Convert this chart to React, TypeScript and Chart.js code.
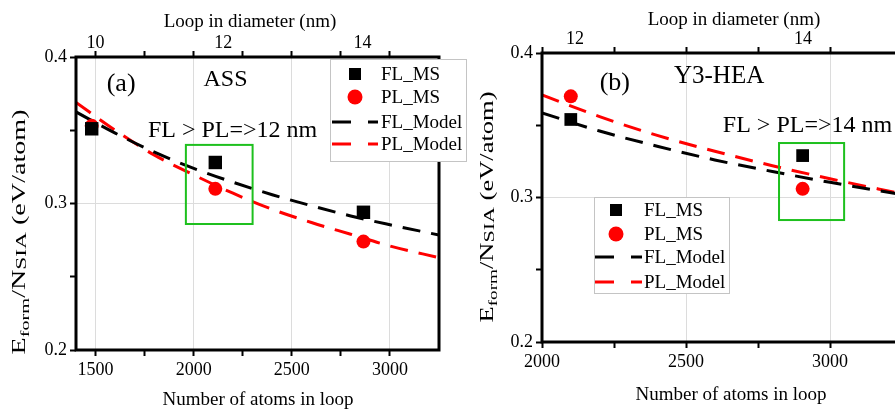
import React, { useEffect, useRef } from 'react';
import { Chart, registerables } from 'chart.js';

Chart.register(...registerables);

const SERIF = '"Liberation Serif", "Times New Roman", serif';

// ---- Panel (a): ASS ----
const A_ATOMS = [1480, 2110, 2865];
const A_FL_MS = [0.351, 0.328, 0.294];
const A_PL_MS = [0.353, 0.31, 0.274];
const A_MODEL_ATOMS = [1400, 1600, 1800, 2000, 2200, 2400, 2600, 2800, 3000, 3250];
const A_FL_MODEL = [0.3625, 0.348, 0.335, 0.324, 0.3145, 0.306, 0.2985, 0.2915, 0.2855, 0.2785];
const A_PL_MODEL = [0.369, 0.35, 0.333, 0.3195, 0.307, 0.296, 0.287, 0.279, 0.271, 0.263];
const A_X_TICKS = [1500, 1750, 2000, 2250, 2500, 2750, 3000];
const A_DIAM_ATOMS = [1500, 2150, 2860];
const A_DIAM_LABELS = ['10', '12', '14'];

// ---- Panel (b): Y3-HEA ----
const B_ATOMS = [2100, 2905];
const B_FL_MS = [0.354, 0.329];
const B_PL_MS = [0.37, 0.306];
const B_MODEL_ATOMS = [2000, 2200, 2400, 2600, 2800, 3000, 3250];
const B_FL_MODEL = [0.3585, 0.346, 0.3355, 0.326, 0.318, 0.3105, 0.302];
const B_PL_MODEL = [0.371, 0.356, 0.343, 0.332, 0.322, 0.313, 0.3025];
const B_X_TICKS = [2000, 2250, 2500, 2750, 3000];
const B_DIAM_ATOMS = [2115, 2906];
const B_DIAM_LABELS = ['12', '14'];

const Y_TICKS = [0.2, 0.25, 0.3, 0.35, 0.4];
const SERIES = ['FL_MS', 'PL_MS', 'FL_Model', 'PL_Model'];

const RED = '#ff0000';
const GREEN = '#1ec01e';
const GRID = '#dcdcdc';
const DASH = [18, 11];

type Spec = {
  width: number;
  left: number;
  yAxisW: number;
  topH: number;
  bottomH: number;
  rightPad: number;
  xMin: number;
  xMax: number;
  xTicks: number[];
  diamAtoms: number[];
  diamLabels: string[];
  atoms: number[];
  fl: number[];
  pl: number[];
  modelAtoms: number[];
  flModel: number[];
  plModel: number[];
  squareR: number;
  tag: { text: string; x: number; y: number };
  material: { text: string; x: number; y: number; size: number };
  claim: { text: string; x: number; y: number; align: CanvasTextAlign };
  box: [number, number, number, number];
  legend: { x: number; y: number; w: number; h: number; rows: number[]; markerX: number; textX: number; lineX0: number; lineX1: number };
  yTitle: { x: number; y: number; len: number };
  xTitle: { x: number; y: number };
  topTitle: { x: number; y: number };
};

const PANEL_A: Spec = {
  width: 470,
  left: 0,
  yAxisW: 76,
  topH: 57,
  bottomH: 60,
  rightPad: 31,
  xMin: 1400,
  xMax: 3250,
  xTicks: A_X_TICKS,
  diamAtoms: A_DIAM_ATOMS,
  diamLabels: A_DIAM_LABELS,
  atoms: A_ATOMS,
  fl: A_FL_MS,
  pl: A_PL_MS,
  modelAtoms: A_MODEL_ATOMS,
  flModel: A_FL_MODEL,
  plModel: A_PL_MODEL,
  squareR: 9.5,
  tag: { text: '(a)', x: 1630, y: 0.3816 },
  material: { text: 'ASS', x: 2162, y: 0.3843, size: 24 },
  claim: { text: 'FL > PL=>12 nm', x: 2198, y: 0.3495, align: 'center' },
  box: [1960, 2300, 0.286, 0.34],
  legend: { x: 330, y: 59, w: 136, h: 102, rows: [74, 97, 122, 144], markerX: 355, textX: 381, lineX0: 332, lineX1: 378 },
  yTitle: { x: 19, y: 232, len: 245 },
  xTitle: { x: 258, y: 400 },
  topTitle: { x: 250, y: 22 },
};

const PANEL_B: Spec = {
  width: 460,
  left: 470,
  yAxisW: 72,
  topH: 53,
  bottomH: 68,
  rightPad: 28,
  xMin: 2000,
  xMax: 3250,
  xTicks: B_X_TICKS,
  diamAtoms: B_DIAM_ATOMS,
  diamLabels: B_DIAM_LABELS,
  atoms: B_ATOMS,
  fl: B_FL_MS,
  pl: B_PL_MS,
  modelAtoms: B_MODEL_ATOMS,
  flModel: B_FL_MODEL,
  plModel: B_PL_MODEL,
  squareR: 9,
  tag: { text: '(b)', x: 2253, y: 0.3789 },
  material: { text: 'Y3-HEA', x: 2615, y: 0.384, size: 25 },
  claim: { text: 'FL > PL=>14 nm', x: 2628, y: 0.3495, align: 'left' },
  box: [2823, 3049, 0.2844, 0.3377],
  legend: { x: 124, y: 197, w: 135, h: 96, rows: [210, 234, 257, 282], markerX: 146, textX: 174, lineX0: 125, lineX1: 172 },
  yTitle: { x: 17, y: 207, len: 231 },
  xTitle: { x: 261, y: 395 },
  topTitle: { x: 264, y: 20 },
};

const isMajorY = (v: number) => Math.abs(v * 10 - Math.round(v * 10)) < 1e-6;

function drawYTitle(ctx: CanvasRenderingContext2D, cx: number, cy: number, len: number) {
  const parts = [
    { t: 'E', size: 18, dy: 0 },
    { t: 'form', size: 13, dy: 4 },
    { t: '/N', size: 18, dy: 0 },
    { t: 'SIA', size: 15, dy: 1 },
    { t: ' (eV/atom)', size: 18, dy: 0 },
  ];
  const widths = parts.map((p) => {
    ctx.font = `${p.size}px ${SERIF}`;
    return ctx.measureText(p.t).width;
  });
  const total = widths.reduce((a, b) => a + b, 0);
  ctx.save();
  ctx.translate(cx, cy);
  ctx.rotate(-Math.PI / 2);
  ctx.scale(len / total, 1);
  ctx.fillStyle = '#000';
  ctx.textAlign = 'left';
  ctx.textBaseline = 'alphabetic';
  let x = -total / 2;
  parts.forEach((p, i) => {
    ctx.font = `${p.size}px ${SERIF}`;
    ctx.fillText(p.t, x, 6 + p.dy);
    x += widths[i];
  });
  ctx.restore();
}

function makeDecor(spec: Spec) {
  return {
    id: 'panelDecor',
    afterDatasetsDraw(chart: any) {
      const { ctx, chartArea, scales } = chart;
      const xs = scales.x;
      const ys = scales.y;
      ctx.save();
      // axis frame
      ctx.strokeStyle = '#000';
      ctx.lineWidth = 3;
      ctx.strokeRect(chartArea.left, chartArea.top, chartArea.right - chartArea.left, chartArea.bottom - chartArea.top);

      // highlight box
      const [bx0, bx1, by0, by1] = spec.box;
      ctx.strokeStyle = GREEN;
      ctx.lineWidth = 2;
      const px0 = xs.getPixelForValue(bx0);
      const px1 = xs.getPixelForValue(bx1);
      const py0 = ys.getPixelForValue(by1);
      const py1 = ys.getPixelForValue(by0);
      ctx.strokeRect(px0, py0, px1 - px0, py1 - py0);

      // in-plot labels
      ctx.fillStyle = '#000';
      ctx.textBaseline = 'middle';
      ctx.textAlign = 'center';
      ctx.font = `26px ${SERIF}`;
      ctx.fillText(spec.tag.text, xs.getPixelForValue(spec.tag.x), ys.getPixelForValue(spec.tag.y));
      ctx.font = `${spec.material.size}px ${SERIF}`;
      ctx.fillText(spec.material.text, xs.getPixelForValue(spec.material.x), ys.getPixelForValue(spec.material.y));
      ctx.font = `24px ${SERIF}`;
      ctx.textAlign = spec.claim.align;
      ctx.fillText(spec.claim.text, xs.getPixelForValue(spec.claim.x), ys.getPixelForValue(spec.claim.y));

      // legend
      const lg = spec.legend;
      ctx.fillStyle = '#fff';
      ctx.fillRect(lg.x, lg.y, lg.w, lg.h);
      ctx.strokeStyle = '#c4c4c4';
      ctx.lineWidth = 1;
      ctx.strokeRect(lg.x + 0.5, lg.y + 0.5, lg.w, lg.h);
      chart.data.datasets.forEach((ds: any, i: number) => {
        const ry = lg.rows[i];
        if (ds.showLine) {
          ctx.strokeStyle = ds.borderColor;
          ctx.lineWidth = 3;
          ctx.setLineDash([19, 17]);
          ctx.beginPath();
          ctx.moveTo(lg.lineX0, ry);
          ctx.lineTo(lg.lineX1, ry);
          ctx.stroke();
          ctx.setLineDash([]);
        } else if (ds.pointStyle === 'rect') {
          ctx.fillStyle = ds.backgroundColor;
          ctx.fillRect(lg.markerX - 6, ry - 6, 12, 12);
        } else {
          ctx.fillStyle = ds.backgroundColor;
          ctx.beginPath();
          ctx.arc(lg.markerX, ry, 7.5, 0, Math.PI * 2);
          ctx.fill();
        }
        ctx.fillStyle = '#000';
        ctx.font = `19px ${SERIF}`;
        ctx.textAlign = 'left';
        ctx.textBaseline = 'middle';
        ctx.fillText(ds.label, lg.textX, ry + 1);
      });
      ctx.restore();
    },
    afterDraw(chart: any) {
      const { ctx } = chart;
      ctx.save();
      ctx.fillStyle = '#000';
      ctx.textAlign = 'center';
      ctx.textBaseline = 'middle';
      ctx.font = `19px ${SERIF}`;
      ctx.fillText('Number of atoms in loop', spec.xTitle.x, spec.xTitle.y);
      ctx.fillText('Loop in diameter (nm)', spec.topTitle.x, spec.topTitle.y);
      drawYTitle(ctx, spec.yTitle.x, spec.yTitle.y, spec.yTitle.len);
      ctx.restore();
    },
  };
}

function Panel({ spec }: { spec: Spec }) {
  const ref = useRef<HTMLCanvasElement | null>(null);

  useEffect(() => {
    if (!ref.current) return;
    const pts = (xs: number[], ys: number[]) => xs.map((x, i) => ({ x, y: ys[i] }));
    const topTicks = Array.from(new Set([...spec.xTicks, ...spec.diamAtoms])).sort((a, b) => a - b);
    const tickFont = { family: SERIF, size: 18 };

    const chart = new Chart(ref.current, {
      type: 'scatter',
      data: {
        datasets: [
          {
            label: SERIES[0],
            data: pts(spec.atoms, spec.fl),
            pointStyle: 'rect',
            pointRadius: spec.squareR,
            backgroundColor: '#000',
            borderColor: '#000',
            borderWidth: 0,
            showLine: false,
          },
          {
            label: SERIES[1],
            data: pts(spec.atoms, spec.pl),
            pointStyle: 'circle',
            pointRadius: 7,
            backgroundColor: RED,
            borderColor: RED,
            borderWidth: 0,
            showLine: false,
          },
          {
            label: SERIES[2],
            data: pts(spec.modelAtoms, spec.flModel),
            showLine: true,
            borderColor: '#000',
            backgroundColor: '#000',
            borderWidth: 3,
            borderDash: DASH,
            pointRadius: 0,
            cubicInterpolationMode: 'monotone',
            fill: false,
          },
          {
            label: SERIES[3],
            data: pts(spec.modelAtoms, spec.plModel),
            showLine: true,
            borderColor: RED,
            backgroundColor: RED,
            borderWidth: 3,
            borderDash: DASH,
            pointRadius: 0,
            cubicInterpolationMode: 'monotone',
            fill: false,
          },
        ],
      },
      options: {
        responsive: false,
        animation: false,
        devicePixelRatio: 1,
        layout: { padding: { left: 0, right: spec.rightPad, top: 0, bottom: 0 } },
        plugins: { legend: { display: false }, tooltip: { enabled: false } },
        scales: {
          x: {
            type: 'linear',
            position: 'bottom',
            min: spec.xMin,
            max: spec.xMax,
            afterBuildTicks: (s: any) => {
              s.ticks = spec.xTicks.map((value) => ({ value }));
            },
            afterFit: (s: any) => {
              s.height = spec.bottomH;
            },
            ticks: {
              autoSkip: false,
              maxRotation: 0,
              color: '#000',
              font: tickFont,
              padding: 3,
              callback: (v: any) => (Number(v) % 500 === 0 ? String(v) : ''),
            },
            grid: {
              color: (c: any) => (c.tick && c.tick.value % 500 === 0 ? GRID : 'rgba(0,0,0,0)'),
              tickColor: '#000',
              tickLength: 6,
              tickWidth: 2,
              lineWidth: 1,
            },
            border: { display: false },
          },
          x2: {
            type: 'linear',
            position: 'top',
            min: spec.xMin,
            max: spec.xMax,
            afterBuildTicks: (s: any) => {
              s.ticks = topTicks.map((value) => ({ value }));
            },
            afterFit: (s: any) => {
              s.height = spec.topH;
            },
            ticks: {
              autoSkip: false,
              maxRotation: 0,
              color: '#000',
              font: tickFont,
              padding: -3,
              callback: (v: any) => {
                const k = spec.diamAtoms.indexOf(Number(v));
                return k >= 0 ? spec.diamLabels[k] : '';
              },
            },
            grid: {
              drawOnChartArea: false,
              tickColor: (c: any) => (c.tick && spec.xTicks.includes(c.tick.value) ? '#000' : 'rgba(0,0,0,0)'),
              tickLength: 6,
              tickWidth: 2,
            },
            border: { display: false },
          },
          y: {
            type: 'linear',
            min: 0.2,
            max: 0.4,
            afterBuildTicks: (s: any) => {
              s.ticks = Y_TICKS.map((value) => ({ value }));
            },
            afterFit: (s: any) => {
              s.width = spec.yAxisW;
            },
            ticks: {
              color: '#000',
              font: tickFont,
              padding: 3,
              callback: (v: any) => (isMajorY(Number(v)) ? Number(v).toFixed(1) : ''),
            },
            grid: {
              color: (c: any) => (c.tick && isMajorY(c.tick.value) ? GRID : 'rgba(0,0,0,0)'),
              tickColor: '#000',
              tickLength: 6,
              tickWidth: 2,
              lineWidth: 1,
            },
            border: { display: false },
          },
        },
      } as any,
      plugins: [makeDecor(spec)],
    });
    return () => chart.destroy();
  }, [spec]);

  return (
    <canvas
      ref={ref}
      width={spec.width}
      height={410}
      style={{ position: 'absolute', left: spec.left, top: 0, width: spec.width, height: 410 }}
    />
  );
}

export default function App() {
  return (
    <div
      style={{
        position: 'fixed',
        left: 0,
        top: 0,
        width: 895,
        height: 410,
        overflow: 'hidden',
        background: '#fff',
      }}
    >
      <Panel spec={PANEL_A} />
      <Panel spec={PANEL_B} />
    </div>
  );
}
